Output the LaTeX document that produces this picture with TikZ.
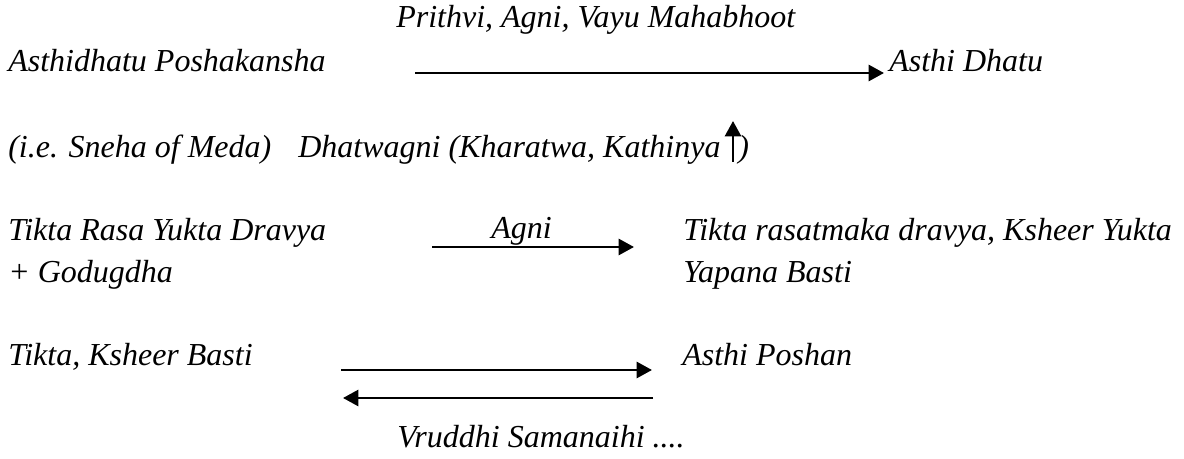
\documentclass[tikz,border=0pt]{standalone}
\usepackage{fontspec}
\setmainfont{Liberation Serif}
\usetikzlibrary{arrows.meta}
\begin{document}
\begin{tikzpicture}[x=0.75pt,y=-0.75pt,
  txt/.style={anchor=base west, inner sep=0pt, font=\fontsize{24}{28}\selectfont\itshape},
  arr/.style={line width=2pt, -{Triangle[length=11.5pt,width=12pt]}}]
\useasboundingbox (0,0) rectangle (1184,459);
% row 0
\node[txt] (mahab) at (396,28) {Prithvi, Agni, Vayu Mahabhoot};
% row 1
\node[txt] (poshak) at (8,72) {Asthidhatu Poshakansha};
\node[txt] (dhatu) at (889,72) {Asthi Dhatu};
\coordinate (a1s) at (415,73);
\coordinate (a1e) at (884,73);
\draw[arr] (a1s) -- (a1e);
% row 2
\node[txt] (sneha) at (8,158) {(i.e. Sneha of Meda)};
\node[txt] (dhatwagni) at (298,158) {Dhatwagni (Kharatwa, Kathinya};
\node[txt] (paren) at (738,158) {)};
\coordinate (u1s) at (733,162);
\coordinate (u1e) at (733,121);
\draw[arr] (u1s) -- (u1e);
% row 3
\node[txt] (tikta) at (8,241) {Tikta Rasa Yukta Dravya};
\node[txt] (godugdha) at (8,283) {+ Godugdha};
\node[txt] (agni) at (491,239) {Agni};
\node[txt] (rasatmaka) at (683,241) {Tikta rasatmaka dravya, Ksheer Yukta};
\node[txt] (yapana) at (683,283) {Yapana Basti};
\coordinate (a3s) at (432,247);
\coordinate (a3e) at (634,247);
\draw[arr] (a3s) -- (a3e);
% row 4
\node[txt] (ksheer) at (8,365) {Tikta, Ksheer Basti};
\node[txt] (poshan) at (682,365) {Asthi Poshan};
\coordinate (a4s) at (341,370);
\coordinate (a4e) at (652,370);
\draw[arr] (a4s) -- (a4e);
\coordinate (b4s) at (653,398);
\coordinate (b4e) at (343,398);
\draw[arr] (b4s) -- (b4e);
\node[txt] (vruddhi) at (397,447) {Vruddhi Samanaihi ....};
\end{tikzpicture}
\end{document}
